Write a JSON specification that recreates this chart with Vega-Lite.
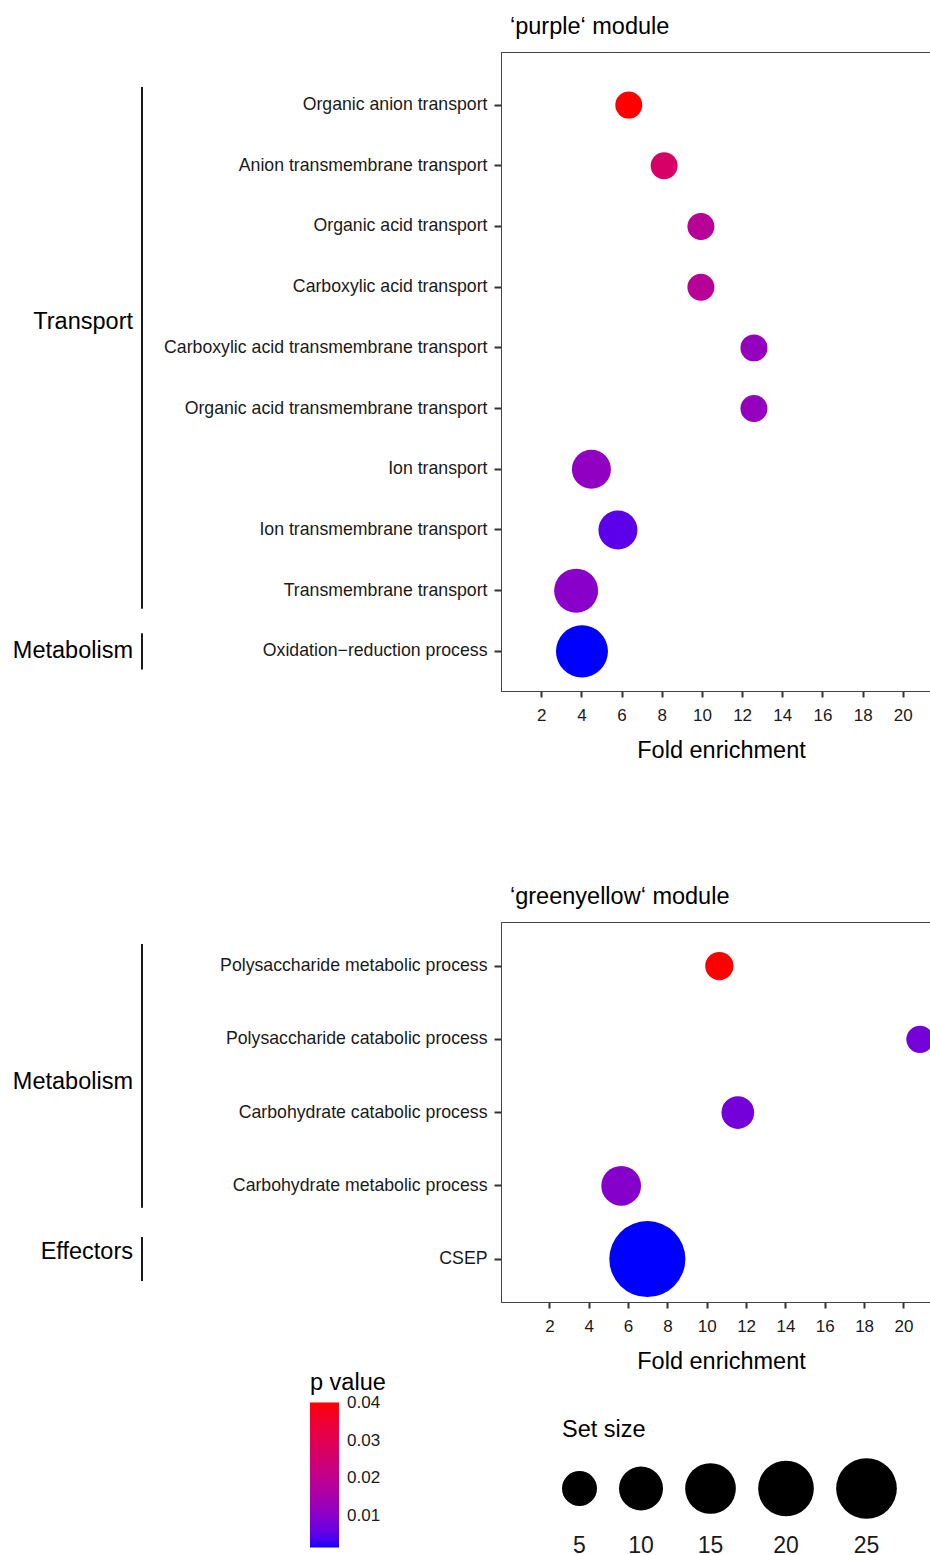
{
  "$schema": "https://vega.github.io/schema/vega-lite/v6.json",
  "padding": {"left": 0, "top": 14, "right": 0, "bottom": 0},
  "background": "white",
  "config": {
    "font": "Liberation Sans",
    "view": {"stroke": "#444", "strokeWidth": 1},
    "axis": {"grid": false, "domainColor": "#444", "domainWidth": 1, "tickColor": "#333", "tickWidth": 2, "tickSize": 6, "labelColor": "#1a1a1a", "titleColor": "black", "titleFontWeight": "normal"},
    "axisY": {"labelFontSize": 17.7, "labelPadding": 7, "tickSize": 7, "labelLimit": 500},
    "axisX": {"labelFontSize": 17, "labelPadding": 10, "titleFontSize": 23.5, "titlePadding": 15},
    "legend": {"titleFontWeight": "normal", "titleColor": "black", "labelColor": "#1a1a1a"},
    "title": {"fontSize": 23.5, "fontWeight": "normal", "anchor": "start", "frame": "group", "color": "black", "dx": 9, "offset": 14}
  },
  "datasets": {
    "mainTop": [
      {"term": "Organic anion transport", "fold": 6.36, "p": 0.0402, "setSize": 1.5},
      {"term": "Anion transmembrane transport", "fold": 8.12, "p": 0.0267, "setSize": 1.5},
      {"term": "Organic acid transport", "fold": 9.95, "p": 0.0185, "setSize": 1.5},
      {"term": "Carboxylic acid transport", "fold": 9.95, "p": 0.0185, "setSize": 1.5},
      {"term": "Carboxylic acid transmembrane transport", "fold": 12.59, "p": 0.0119, "setSize": 1.5},
      {"term": "Organic acid transmembrane transport", "fold": 12.59, "p": 0.0119, "setSize": 1.5},
      {"term": "Ion transport", "fold": 4.5, "p": 0.0112, "setSize": 7.1},
      {"term": "Ion transmembrane transport", "fold": 5.82, "p": 0.005, "setSize": 7.1},
      {"term": "Transmembrane transport", "fold": 3.74, "p": 0.01, "setSize": 10},
      {"term": "Oxidation−reduction process", "fold": 4.03, "p": 0.0015, "setSize": 16.3}
    ],
    "groupsTop": [
      {"group": "Transport", "first": "Organic anion transport", "last": "Transmembrane transport", "labelTerm": "Carboxylic acid transport"},
      {"group": "Metabolism", "first": "Oxidation−reduction process", "last": "Oxidation−reduction process", "labelTerm": "Oxidation−reduction process"}
    ],
    "mainBottom": [
      {"term": "Polysaccharide metabolic process", "fold": 10.64, "p": 0.0402, "setSize": 2.0},
      {"term": "Polysaccharide catabolic process", "fold": 20.84, "p": 0.0073, "setSize": 1.6},
      {"term": "Carbohydrate catabolic process", "fold": 11.58, "p": 0.0073, "setSize": 3.9},
      {"term": "Carbohydrate metabolic process", "fold": 5.65, "p": 0.0096, "setSize": 7.5},
      {"term": "CSEP", "fold": 6.98, "p": 0.0015, "setSize": 43}
    ],
    "groupsBottom": [
      {"group": "Metabolism", "first": "Polysaccharide metabolic process", "last": "Carbohydrate metabolic process", "labelTerm": "Polysaccharide catabolic process"},
      {"group": "Effectors", "first": "CSEP", "last": "CSEP", "labelTerm": "CSEP"}
    ]
  },
  "vconcat": [
    {
      "hconcat": [
        {
          "width": 284, "height": 639,
          "view": {"stroke": null},
          "data": {"name": "groupsTop"},
          "layer": [
            {
              "mark": {"type": "rule", "color": "black", "strokeWidth": 1.8},
              "encoding": {
                "y": {"field": "first", "type": "nominal", "bandPosition": 0.2, "axis": null,
                  "scale": {"type": "band", "domain": ["Organic anion transport", "Anion transmembrane transport", "Organic acid transport", "Carboxylic acid transport", "Carboxylic acid transmembrane transport", "Organic acid transmembrane transport", "Ion transport", "Ion transmembrane transport", "Transmembrane transport", "Oxidation−reduction process"], "paddingInner": 0, "paddingOuter": 0.264, "align": 0.71}},
                "y2": {"field": "last", "bandPosition": 0.8}
              }
            },
            {
              "transform": [{"filter": "datum.first === datum.last"}],
              "mark": {"type": "text", "align": "right", "baseline": "middle", "dx": -9, "fontSize": 23.5, "color": "black"},
              "encoding": {
                "y": {"field": "labelTerm", "type": "nominal", "bandPosition": 0.5, "axis": null,
                  "scale": {"type": "band", "domain": ["Organic anion transport", "Anion transmembrane transport", "Organic acid transport", "Carboxylic acid transport", "Carboxylic acid transmembrane transport", "Organic acid transmembrane transport", "Ion transport", "Ion transmembrane transport", "Transmembrane transport", "Oxidation−reduction process"], "paddingInner": 0, "paddingOuter": 0.264, "align": 0.71}},
                "text": {"field": "group"}
              }
            },
            {
              "transform": [{"filter": "datum.first !== datum.last"}],
              "mark": {"type": "text", "align": "right", "baseline": "middle", "dx": -9, "fontSize": 23.5, "color": "black"},
              "encoding": {
                "y": {"field": "labelTerm", "type": "nominal", "bandPosition": 1.08, "axis": null,
                  "scale": {"type": "band", "domain": ["Organic anion transport", "Anion transmembrane transport", "Organic acid transport", "Carboxylic acid transport", "Carboxylic acid transmembrane transport", "Organic acid transmembrane transport", "Ion transport", "Ion transmembrane transport", "Transmembrane transport", "Oxidation−reduction process"], "paddingInner": 0, "paddingOuter": 0.264, "align": 0.71}},
                "text": {"field": "group"}
              }
            }
          ]
        },
        {
          "width": 440, "height": 639,
          "title": "‘purple‘ module",
          "data": {"name": "mainTop"},
          "mark": {"type": "circle", "opacity": 1, "strokeWidth": 0},
          "encoding": {
            "x": {"field": "fold", "type": "quantitative", "title": "Fold enrichment",
              "scale": {"domain": [0, 21.9], "nice": false, "zero": false},
              "axis": {"values": [2, 4, 6, 8, 10, 12, 14, 16, 18, 20]}},
            "y": {"field": "term", "type": "nominal", "title": null,
              "scale": {"type": "band", "domain": ["Organic anion transport", "Anion transmembrane transport", "Organic acid transport", "Carboxylic acid transport", "Carboxylic acid transmembrane transport", "Organic acid transmembrane transport", "Ion transport", "Ion transmembrane transport", "Transmembrane transport", "Oxidation−reduction process"], "paddingInner": 0, "paddingOuter": 0.264, "align": 0.71}},
            "color": {"field": "p", "type": "quantitative", "title": "p value",
              "scale": {"domain": [0.0015, 0.0402], "range": ["#0000FF", "#FF0000"], "interpolate": "lab"},
              "legend": {"orient": "none", "legendX": 310, "legendY": 1319, "direction": "vertical", "values": [0.01, 0.02, 0.03, 0.04], "format": ".2f", "gradientLength": 145, "gradientThickness": 29, "gradientStrokeWidth": 0, "labelFontSize": 17, "titleFontSize": 23.5, "titlePadding": 8, "labelOffset": 8}},
            "size": {"field": "setSize", "type": "quantitative", "title": "Set size",
              "scale": {"type": "linear", "zero": false, "domain": [5, 10, 15, 20, 25], "range": [1225, 1936, 2570, 3102, 3684]},
              "legend": {"orient": "none", "legendX": 562, "legendY": 1366, "direction": "horizontal", "values": [5, 10, 15, 20, 25], "symbolType": "circle", "symbolFillColor": "black", "symbolStrokeWidth": 0, "symbolOpacity": 1, "labelFontSize": 23, "labelAlign": "center", "labelBaseline": "middle", "labelOffset": 0, "columnPadding": 22, "titleFontSize": 23.5, "titlePadding": 16,
                "encode": {
                  "symbols": {"update": {"y": {"value": 31}}},
                  "labels": {"update": {"x": {"signal": "datum.size * 0.5"}, "y": {"value": 88}}}
                }}}
          }
        }
      ],
      "spacing": 217,
      "bounds": "flush",
      "resolve": {"scale": {"y": "shared"}}
    },
    {
      "hconcat": [
        {
          "width": 284, "height": 380,
          "view": {"stroke": null},
          "data": {"name": "groupsBottom"},
          "layer": [
            {
              "mark": {"type": "rule", "color": "black", "strokeWidth": 1.8},
              "encoding": {
                "y": {"field": "first", "type": "nominal", "bandPosition": 0.2, "axis": null,
                  "scale": {"type": "band", "domain": ["Polysaccharide metabolic process", "Polysaccharide catabolic process", "Carbohydrate catabolic process", "Carbohydrate metabolic process", "CSEP"], "paddingInner": 0, "paddingOuter": 0.094, "align": 0.54}},
                "y2": {"field": "last", "bandPosition": 0.8}
              }
            },
            {
              "transform": [{"filter": "datum.first === datum.last"}],
              "mark": {"type": "text", "align": "right", "baseline": "middle", "dx": -9, "fontSize": 23.5, "color": "black"},
              "encoding": {
                "y": {"field": "labelTerm", "type": "nominal", "bandPosition": 0.4, "axis": null,
                  "scale": {"type": "band", "domain": ["Polysaccharide metabolic process", "Polysaccharide catabolic process", "Carbohydrate catabolic process", "Carbohydrate metabolic process", "CSEP"], "paddingInner": 0, "paddingOuter": 0.094, "align": 0.54}},
                "text": {"field": "group"}
              }
            },
            {
              "transform": [{"filter": "datum.first !== datum.last"}],
              "mark": {"type": "text", "align": "right", "baseline": "middle", "dx": -9, "fontSize": 23.5, "color": "black"},
              "encoding": {
                "y": {"field": "labelTerm", "type": "nominal", "bandPosition": 1.08, "axis": null,
                  "scale": {"type": "band", "domain": ["Polysaccharide metabolic process", "Polysaccharide catabolic process", "Carbohydrate catabolic process", "Carbohydrate metabolic process", "CSEP"], "paddingInner": 0, "paddingOuter": 0.094, "align": 0.54}},
                "text": {"field": "group"}
              }
            }
          ]
        },
        {
          "width": 440, "height": 380,
          "title": "‘greenyellow‘ module",
          "data": {"name": "mainBottom"},
          "mark": {"type": "circle", "opacity": 1, "strokeWidth": 0},
          "encoding": {
            "x": {"field": "fold", "type": "quantitative", "title": "Fold enrichment",
              "scale": {"domain": [-0.46, 21.91], "nice": false, "zero": false},
              "axis": {"values": [2, 4, 6, 8, 10, 12, 14, 16, 18, 20]}},
            "y": {"field": "term", "type": "nominal", "title": null,
              "scale": {"type": "band", "domain": ["Polysaccharide metabolic process", "Polysaccharide catabolic process", "Carbohydrate catabolic process", "Carbohydrate metabolic process", "CSEP"], "paddingInner": 0, "paddingOuter": 0.094, "align": 0.54}},
            "color": {"field": "p", "type": "quantitative", "title": "p value",
              "scale": {"domain": [0.0015, 0.0402], "range": ["#0000FF", "#FF0000"], "interpolate": "lab"}},
            "size": {"field": "setSize", "type": "quantitative", "title": "Set size",
              "scale": {"type": "linear", "zero": false, "domain": [5, 10, 15, 20, 25], "range": [1225, 1936, 2570, 3102, 3684]}}
          }
        }
      ],
      "spacing": 217,
      "bounds": "flush",
      "resolve": {"scale": {"y": "shared"}}
    }
  ],
  "spacing": 122
}
